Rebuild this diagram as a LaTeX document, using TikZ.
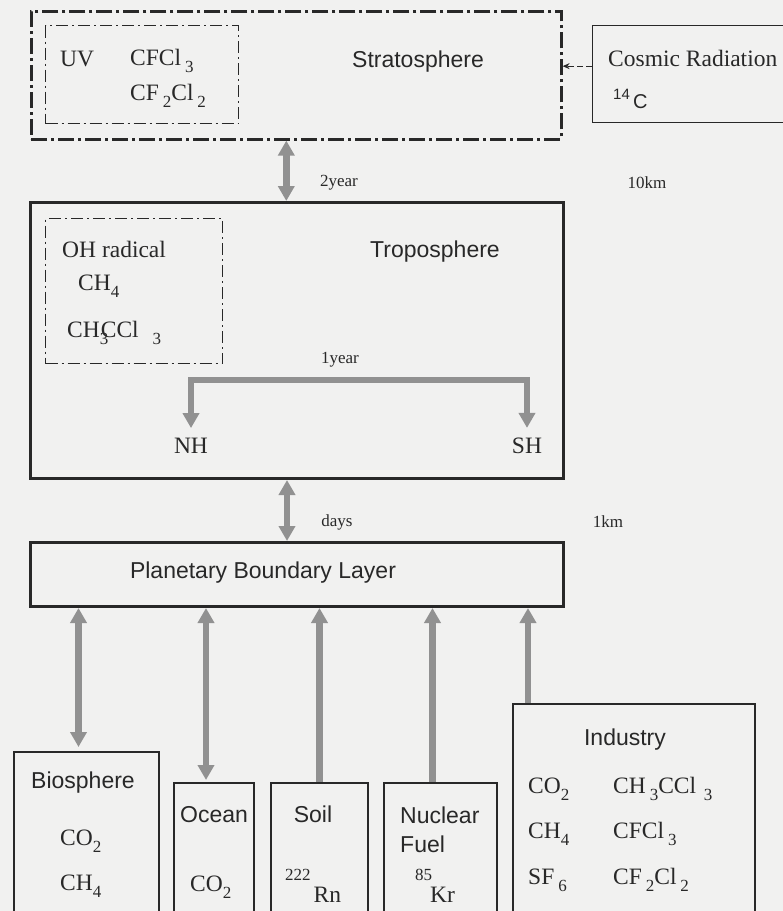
\documentclass[tikz,border=0pt]{standalone}
\usepackage{fontspec}
\setmainfont{Liberation Serif}
\setsansfont{Liberation Sans}
\usetikzlibrary{arrows.meta,calc}
\definecolor{bgc}{RGB}{241,241,240}
\definecolor{ink}{RGB}{40,40,40}
\definecolor{hatch}{RGB}{145,145,145}
\newcommand{\lsub}[1]{\raisebox{-0.3em}{\fontsize{17}{17}\selectfont #1}}
\newcommand{\lsup}[1]{\raisebox{0.45em}{\fontsize{15}{15}\selectfont #1}}
\tikzset{
  frame/.style={draw=ink, line width=2pt, anchor=north west, inner sep=0pt},
  thickframe/.style={draw=ink, line width=3pt, anchor=north west, inner sep=0pt},
  thinframe/.style={draw=ink, line width=1.3pt, anchor=north west, inner sep=0pt},
  dashdot/.style={draw=ink, line width=2.6pt, dash pattern=on 16pt off 4pt on 3pt off 4pt, anchor=north west, inner sep=0pt},
  dashdotthin/.style={draw=ink, line width=1.3pt, dash pattern=on 12pt off 4pt on 2pt off 4pt, anchor=north west, inner sep=0pt},
  serif/.style={text=ink, inner sep=0pt, font=\fontsize{23.5}{26}\selectfont},
  sans/.style={text=ink, inner sep=0pt, font=\sffamily\fontsize{23}{26}\selectfont},
  small/.style={text=ink, inner sep=0pt, font=\fontsize{17}{20}\selectfont},
  harrow/.style={draw=hatch, line width=6.5pt, arrows={-Triangle[width=16pt,length=15pt]}},
  hdarrow/.style={draw=hatch, line width=6.5pt, arrows={Triangle[width=16pt,length=15pt]-Triangle[width=16pt,length=15pt]}},
}
\begin{document}
\begin{tikzpicture}[x=1pt,y=-1pt]
\fill[bgc] (0,0) rectangle (783,911);
\clip (0,0) rectangle (783,911);

% Stratosphere
\node[dashdot, minimum width=530pt, minimum height=128pt] (strat) at (30,10) {};
\node[dashdotthin, minimum width=193pt, minimum height=98pt] (uvbox) at (45,25) {};
\node[serif, anchor=base west] (uv) at (60,66) {UV};
\node[serif, anchor=base west] (cfcl3) at (130,65) {CFCl\,\lsub{3}};
\node[serif, anchor=base west] (cf2cl2) at (130,100) {CF\,\lsub{2}Cl\,\lsub{2}};
\node[sans] (stratlbl) at (418,62) {Stratosphere};

% Cosmic radiation
\node[thinframe, minimum width=192pt, minimum height=97pt] (cosmic) at (592,25) {};
\node[serif, anchor=base west] (cosmiclbl) at (608,66) {Cosmic Radiation};
\node[text=ink, inner sep=0pt, anchor=base west, font=\sffamily\fontsize{20}{22}\selectfont] (c14) at (613,108) {\lsup{14}\,C};
\coordinate (cw) at ([yshift=8pt]cosmic.west);
\draw[ink, line width=1.3pt, dash pattern=on 6pt off 3pt, -{Stealth[length=7pt,width=6pt]}] (cw) -- (cw -| strat.east);

\node[small] (km10) at (647,183) {10km};

% Troposphere
\node[thickframe, minimum width=533pt, minimum height=276pt] (tropo) at (29,201) {};
\node[sans] (tropolbl) at (435,252) {Troposphere};
\node[dashdotthin, minimum width=177pt, minimum height=145pt] (ohbox) at (45,218) {};
\node[serif, anchor=base west] (oh) at (62,257) {OH radical};
\node[serif, anchor=base west] (ch4a) at (78,290) {CH\lsub{4}};
\node[serif, anchor=base west] (ch3ccl3a) at (67,337) {CH\rlap{\lsub{3}}\hspace{1pt}CCl\hspace{14pt}\lsub{3}};

\node[serif] (nh) at (191,446) {NH};
\node[serif] (sh) at (527,446) {SH};
\coordinate (yr) at (360,380);
\draw[hdarrow] ([yshift=10pt]nh.north) |- (yr) -| ([yshift=10pt]sh.north);
\node[small] (year1) at (340,360) {1year};

% 2year
\draw[hdarrow] ([xshift=-10pt]strat.south) -- ([xshift=-10pt]strat.south |- tropo.north);
\node[small] (year2) at (339,183) {2year};

% PBL
\node[thickframe, minimum width=533pt, minimum height=64pt] (pbl) at (29,541) {};
\node[sans] (pbllbl) at (263,573) {Planetary Boundary Layer};

\draw[hdarrow] ([xshift=-10pt]tropo.south) -- ([xshift=-10pt]tropo.south |- pbl.north);
\node[small] (days) at (337,522) {days};
\node[small] (km1) at (608,522) {1km};

% Sources
\node[frame, minimum width=145pt, minimum height=170pt] (bio) at (13,751) {};
\node[sans, anchor=base] (biolbl) at (83,788) {Biosphere};
\node[serif, anchor=base west] (bioco2) at (60,845) {CO\lsub{2}};
\node[serif, anchor=base west] (bioch4) at (60,890) {CH\lsub{4}};

\node[frame, minimum width=80pt, minimum height=140pt] (ocean) at (173,782) {};
\node[sans, anchor=base] (oceanlbl) at (214,822) {Ocean};
\node[serif, anchor=base west] (oceanco2) at (190,891) {CO\lsub{2}};

\node[frame, minimum width=97pt, minimum height=140pt] (soil) at (270,782) {};
\node[sans, anchor=base] (soillbl) at (313,822) {Soil};
\node[serif, anchor=base west] (rn) at (285,902) {\raisebox{0.9em}{\fontsize{17}{17}\selectfont 222}\hspace{3pt}Rn};

\node[frame, minimum width=113pt, minimum height=140pt] (nuc) at (383,782) {};
\node[sans, anchor=base west] (nuclbl) at (400,823) {Nuclear};
\node[sans, anchor=base west] (fuellbl) at (400,852) {Fuel};
\node[serif, anchor=base west] (kr) at (415,902) {\raisebox{0.9em}{\fontsize{17}{17}\selectfont 85}\hspace{-2pt}Kr};

\node[frame, minimum width=242pt, minimum height=220pt] (ind) at (512,703) {};
\node[sans, anchor=base] (indlbl) at (625,745) {Industry};
\node[serif, anchor=base west] (ico2) at (528,793) {CO\lsub{2}};
\node[serif, anchor=base west] (ich4) at (528,838) {CH\lsub{4}};
\node[serif, anchor=base west] (isf6) at (528,884) {SF\,\lsub{6}};
\node[serif, anchor=base west] (ich3) at (613,793) {CH\,\lsub{3}CCl\,\,\lsub{3}};
\node[serif, anchor=base west] (icfc) at (613,838) {CFCl\,\lsub{3}};
\node[serif, anchor=base west] (icf2) at (613,884) {CF\,\lsub{2}Cl\,\lsub{2}};

% Source arrows
\draw[hdarrow] ([xshift=-8pt,yshift=4pt]bio.north) -- ([xshift=-8pt]bio.north |- pbl.south);
\draw[hdarrow] ([xshift=-8pt,yshift=2pt]ocean.north) -- ([xshift=-8pt]ocean.north |- pbl.south);
\draw[harrow] (soil.north) -- (soil.north |- pbl.south);
\draw[harrow] ([xshift=-8pt]nuc.north) -- ([xshift=-8pt]nuc.north |- pbl.south);
\draw[harrow] ([xshift=-106pt]ind.north) -- ([xshift=-106pt]ind.north |- pbl.south);
\end{tikzpicture}
\end{document}
